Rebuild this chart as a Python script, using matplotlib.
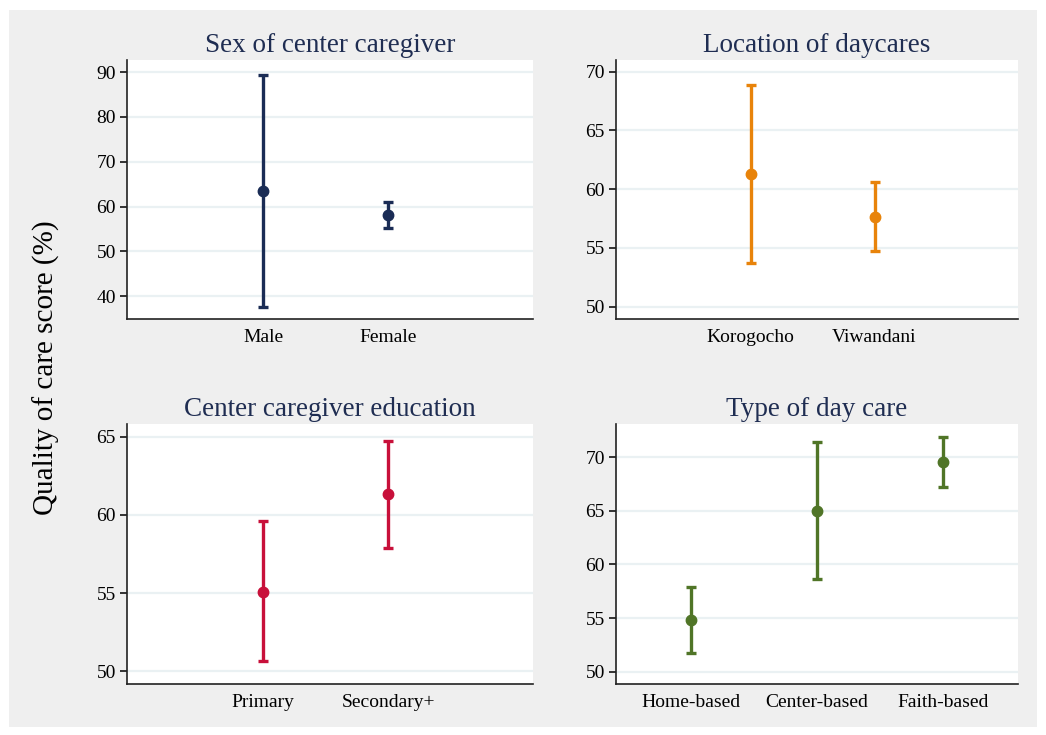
import matplotlib
matplotlib.use('Agg')
import matplotlib.pyplot as plt
from matplotlib.patches import Rectangle

plt.rcParams['font.family'] = ['Liberation Serif', 'DejaVu Serif']

# data: mean, lower CI, upper CI
sex_cats = ['Male', 'Female']
sex_mean = [63.4, 58.2]
sex_lo = [37.6, 55.3]
sex_hi = [89.3, 61.1]

loc_cats = ['Korogocho', 'Viwandani']
loc_mean = [61.3, 57.6]
loc_lo = [53.7, 54.7]
loc_hi = [68.9, 60.6]

edu_cats = ['Primary', 'Secondary+']
edu_mean = [55.1, 61.3]
edu_lo = [50.7, 57.9]
edu_hi = [59.6, 64.7]

type_cats = ['Home-based', 'Center-based', 'Faith-based']
type_mean = [54.8, 65.0, 69.6]
type_lo = [51.7, 58.6, 67.2]
type_hi = [57.9, 71.4, 71.9]

W, H = 1046, 735
fig = plt.figure(figsize=(W / 100, H / 100), dpi=100)
fig.patch.set_facecolor('white')
fig.patches.append(Rectangle((9 / W, 1 - 727 / H), (1037 - 9) / W, (727 - 10) / H,
                             transform=fig.transFigure, facecolor='#efefef',
                             edgecolor='none', zorder=-5))


def px_axes(left, top, right, bottom):
    return fig.add_axes([left / W, 1 - bottom / H, (right - left) / W, (bottom - top) / H])


def panel(ax, cats, mean, lo, hi, color, title, yticks, ylim, xlim):
    x = list(range(1, len(cats) + 1))
    yerr = [[m - l for m, l in zip(mean, lo)], [h - m for m, h in zip(mean, hi)]]
    ax.errorbar(x, mean, yerr=yerr, fmt='o', color=color, ecolor=color,
                elinewidth=2.4, capsize=3.5, capthick=2.4, markersize=7.5, zorder=3)
    ax.set_xticks(x)
    ax.set_xticklabels(cats)
    ax.set_yticks(yticks)
    ax.set_ylim(ylim)
    ax.set_xlim(xlim)
    ax.set_facecolor('white')
    ax.grid(axis='y', color='#eaf1f3', linewidth=1.6, zorder=0)
    ax.set_axisbelow(True)
    for s in ['top', 'right']:
        ax.spines[s].set_visible(False)
    for s in ['left', 'bottom']:
        ax.spines[s].set_linewidth(1.2)
        ax.spines[s].set_color('#222222')
    ax.tick_params(axis='x', length=0, pad=7, labelsize=14)
    ax.tick_params(axis='y', length=5, width=1.1, pad=3, labelsize=14)
    ax.set_title(title, color='#1f2d52', fontsize=19.5, pad=6)


ax1 = px_axes(127, 60, 533, 319)
panel(ax1, sex_cats, sex_mean, sex_lo, sex_hi, '#1a2c55', 'Sex of center caregiver',
      [40, 50, 60, 70, 80, 90], (34.9, 92.7), (-0.09, 3.16))

ax2 = px_axes(616, 60, 1018, 319)
panel(ax2, loc_cats, loc_mean, loc_lo, loc_hi, '#e8830a', 'Location of daycares',
      [50, 55, 60, 65, 70], (48.95, 71.0), (-0.09, 3.16))

ax3 = px_axes(127, 424, 533, 684)
panel(ax3, edu_cats, edu_mean, edu_lo, edu_hi, '#c8103a', 'Center caregiver education',
      [50, 55, 60, 65], (49.2, 65.8), (-0.09, 3.16))

ax4 = px_axes(616, 424, 1018, 684)
panel(ax4, type_cats, type_mean, type_lo, type_hi, '#507527', 'Type of day care',
      [50, 55, 60, 65, 70], (48.85, 73.1), (0.4, 3.6))

fig.text(46 / W, 0.5, 'Quality of care score (%)', rotation=90, va='center', ha='center',
         fontsize=21, color='black')

fig.savefig('out.png', dpi=100, facecolor=fig.get_facecolor())
